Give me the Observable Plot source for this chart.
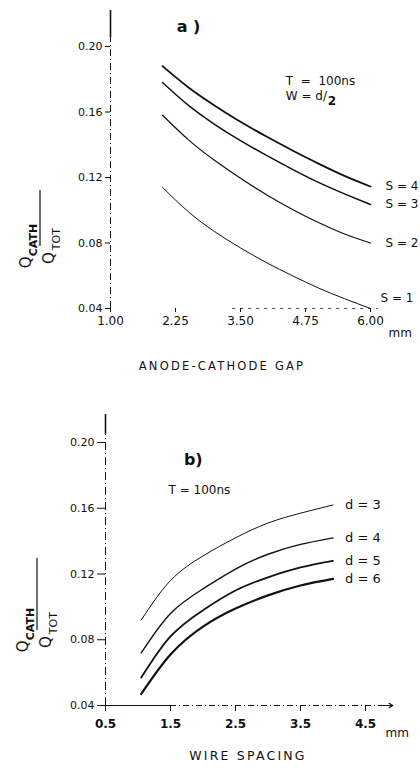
<!DOCTYPE html>
<html><head><meta charset="utf-8">
<script src="https://cdn.jsdelivr.net/npm/d3@7"></script>
<script src="https://cdn.jsdelivr.net/npm/@observablehq/plot@0.6"></script>
<style>
body{margin:0;background:#fff;width:420px;overflow:hidden;}
#chart svg{display:block;overflow:visible;}
</style></head><body><div id="chart"></div>
<script>
// ---- data: panel a (anode-cathode gap) ----
const gapX = [2.0, 2.5, 3.0, 3.5, 4.0, 4.5, 5.0, 5.5, 6.0];
const gapS1 = [0.114, 0.099, 0.087, 0.077, 0.068, 0.060, 0.0525, 0.046, 0.040];
const gapS2 = [0.158, 0.143, 0.1305, 0.1195, 0.1095, 0.1005, 0.0925, 0.0855, 0.080];
const gapS3 = [0.178, 0.164, 0.1525, 0.1425, 0.1335, 0.125, 0.117, 0.110, 0.1035];
const gapS4 = [0.188, 0.175, 0.164, 0.154, 0.145, 0.1365, 0.1285, 0.121, 0.1145];
const gapLabels = ["S = 1", "S = 2", "S = 3", "S = 4"];
// ---- data: panel b (wire spacing) ----
const spacingX = [1.05, 1.5, 2.0, 2.5, 3.0, 3.5, 4.0];
const spD3 = [0.092, 0.116, 0.131, 0.142, 0.151, 0.157, 0.162];
const spD4 = [0.072, 0.096, 0.111, 0.123, 0.132, 0.138, 0.142];
const spD5 = [0.057, 0.082, 0.098, 0.110, 0.118, 0.124, 0.128];
const spD6 = [0.047, 0.071, 0.088, 0.099, 0.107, 0.113, 0.117];
const spacingLabels = ["d = 3", "d = 4", "d = 5", "d = 6"];
// ---- tick labels ----
const yTicks = [0.04, 0.08, 0.12, 0.16, 0.20];
const gapTicks = [1.00, 2.25, 3.50, 4.75, 6.00];
const spacingTicks = [0.5, 1.5, 2.5, 3.5, 4.5];

const FONT = "DejaVu Sans";
const INK = "#111";

function rows(xs, seriesList, labels) {
  const out = [];
  seriesList.forEach((ys, i) => xs.forEach((x, j) => out.push({x, y: ys[j], s: labels[i]})));
  return out;
}
const gapRows = rows(gapX, [gapS1, gapS2, gapS3, gapS4], gapLabels);
const spRows = rows(spacingX, [spD3, spD4, spD5, spD6], spacingLabels);
const lastOf = (rs, lab) => rs.filter(d => d.s === lab).slice(-1)[0];

const gapWidths = {"S = 1": 1.0, "S = 2": 1.2, "S = 3": 1.5, "S = 4": 1.8};
const spWidths = {"d = 3": 1.0, "d = 4": 1.4, "d = 5": 1.8, "d = 6": 2.2};

// ---------- Panel a ----------
const plotA = Plot.plot({
  width: 420, height: 380,
  marginLeft: 110, marginRight: 50, marginTop: 46, marginBottom: 72,
  style: {fontFamily: FONT, fontSize: "11px", color: INK, background: "#fff", overflow: "visible"},
  x: {domain: [1, 6], ticks: gapTicks, tickFormat: d => d.toFixed(2), tickSize: 4, tickPadding: 4, label: null},
  y: {domain: [0.04, 0.20], ticks: yTicks, tickFormat: d => d.toFixed(2), tickSize: 5, tickPadding: 3, label: null},
  marks: [
    Plot.ruleX([1], {y1: () => 0.04, y2: () => 0.205, stroke: INK, strokeWidth: 1, strokeDasharray: "7,3,1,3"}),
    Plot.ruleX([1], {y1: () => 0.205, y2: () => 0.222, stroke: INK, strokeWidth: 1.6}),
    Plot.ruleY([0.04], {x1: () => 3.35, x2: () => 6.15, stroke: INK, strokeWidth: 0.8, strokeDasharray: "3,5"}),
    ...gapLabels.map(lab => Plot.line(gapRows.filter(d => d.s === lab),
      {x: "x", y: "y", curve: "natural", stroke: INK, strokeWidth: gapWidths[lab]})),
    Plot.text(gapLabels.slice(1).map(l => lastOf(gapRows, l)),
      {x: "x", y: "y", text: "s", dx: 15, textAnchor: "start", fontSize: 12, fill: INK}),
    Plot.text([lastOf(gapRows, "S = 1")],
      {x: "x", y: "y", text: "s", dx: 10, dy: -10, textAnchor: "start", fontSize: 12, fill: INK}),
    Plot.text(["a )"], {x: () => 2.5, y: () => 0.2122, text: d => d, fontSize: 16, fontWeight: "bold", fill: INK}),
    Plot.text(["T  =  100ns"], {x: () => 4.37, y: () => 0.1786, text: d => d, textAnchor: "start", fontSize: 12, fill: INK}),
    Plot.text(["W = d/"], {x: () => 4.37, y: () => 0.1695, text: d => d, textAnchor: "start", fontSize: 12, fill: INK}),
    Plot.text(["2"], {x: () => 4.37, y: () => 0.1695, text: d => d, dx: 42, dy: 5, textAnchor: "start", fontSize: 12, fontWeight: "bold", fill: INK}),
    Plot.text(["mm"], {x: () => 6, y: () => 0.04, text: d => d, dx: 18, dy: 25, textAnchor: "start", fontSize: 12, fill: INK})
  ]
});

// ---------- Panel b ----------
const plotB = Plot.plot({
  width: 420, height: 388,
  marginLeft: 105, marginRight: 55, marginTop: 62, marginBottom: 63,
  style: {fontFamily: FONT, fontSize: "11px", color: INK, background: "#fff", overflow: "visible"},
  x: {domain: [0.5, 4.5], ticks: spacingTicks, tickFormat: d => d.toFixed(1), tickSize: 6, tickPadding: 8, label: null},
  y: {domain: [0.04, 0.20], ticks: yTicks, tickFormat: d => d.toFixed(2), tickSize: 8, tickPadding: 3, label: null},
  marks: [
    Plot.ruleX([0.5], {y1: () => 0.04, y2: () => 0.205, stroke: INK, strokeWidth: 1, strokeDasharray: "8,3,1,3"}),
    Plot.ruleX([0.5], {y1: () => 0.205, y2: () => 0.217, stroke: INK, strokeWidth: 1.6}),
    Plot.ruleY([0.04], {x1: () => 0.45, x2: () => 1.5, stroke: INK, strokeWidth: 1.2}),
    Plot.ruleY([0.04], {x1: () => 1.5, x2: () => 4.75, stroke: INK, strokeWidth: 1, strokeDasharray: "6,3,1,3"}),
    Plot.arrow([0], {x1: () => 4.72, x2: () => 4.92, y1: () => 0.04, y2: () => 0.04, stroke: INK, strokeWidth: 1.2, headLength: 7}),
    ...spacingLabels.map(lab => Plot.line(spRows.filter(d => d.s === lab),
      {x: "x", y: "y", curve: "natural", stroke: INK, strokeWidth: spWidths[lab]})),
    Plot.text(spacingLabels.map(l => lastOf(spRows, l)),
      {x: "x", y: "y", text: "s", dx: 12, textAnchor: "start", fontSize: 13, fill: INK}),
    Plot.text(["b)"], {x: () => 1.85, y: () => 0.1896, text: d => d, fontSize: 16, fontWeight: "bold", fill: INK}),
    Plot.text(["T = 100ns"], {x: () => 1.47, y: () => 0.171, text: d => d, textAnchor: "start", fontSize: 12, fill: INK}),
    Plot.text(["mm"], {x: () => 4.5, y: () => 0.04, text: d => d, dx: 20, dy: 28, textAnchor: "start", fontSize: 12, fill: INK})
  ]
});

// bold x tick labels in panel b
d3.select(plotB).selectAll('[aria-label^="x-axis"] text').attr("font-weight", "bold").attr("font-size", 12);
d3.select(plotA).selectAll('[aria-label^="x-axis"] text').attr("font-size", 12);

// rotated fraction label Q_CATH / Q_TOT
function addFraction(svg, barX, bottomY, len) {
  const g = d3.select(svg).append("g")
    .attr("transform", `translate(${barX},${bottomY}) rotate(-90)`)
    .attr("fill", INK).attr("font-family", FONT);
  const num = g.append("text").attr("x", 0).attr("y", -9).attr("font-size", 15);
  num.append("tspan").text("Q");
  num.append("tspan").attr("dy", 6).attr("font-size", 11).attr("font-weight", "bold").text("CATH");
  g.append("line").attr("x1", 0).attr("x2", len).attr("y1", 0).attr("y2", 0).attr("stroke", INK).attr("stroke-width", 1.2);
  const den = g.append("text").attr("x", 0).attr("y", 14).attr("font-size", 15);
  den.append("tspan").text("Q");
  den.append("tspan").attr("dx", 2).attr("dy", 6).attr("font-size", 11).text("TOT");
}
function addTitle(svg, cx, y, txt, size) {
  d3.select(svg).append("text").attr("x", cx).attr("y", y).attr("text-anchor", "middle")
    .attr("font-family", FONT).attr("font-size", size).attr("letter-spacing", 2.2)
    .attr("fill", INK).text(txt);
}
addFraction(plotA, 40, 246, 56);
addTitle(plotA, 222, 370, "ANODE-CATHODE GAP", 11.5);
addFraction(plotB, 37, 250, 72);
addTitle(plotB, 248, 380, "WIRE SPACING", 12.5);

document.getElementById("chart").append(plotA, plotB);
</script></body></html>
